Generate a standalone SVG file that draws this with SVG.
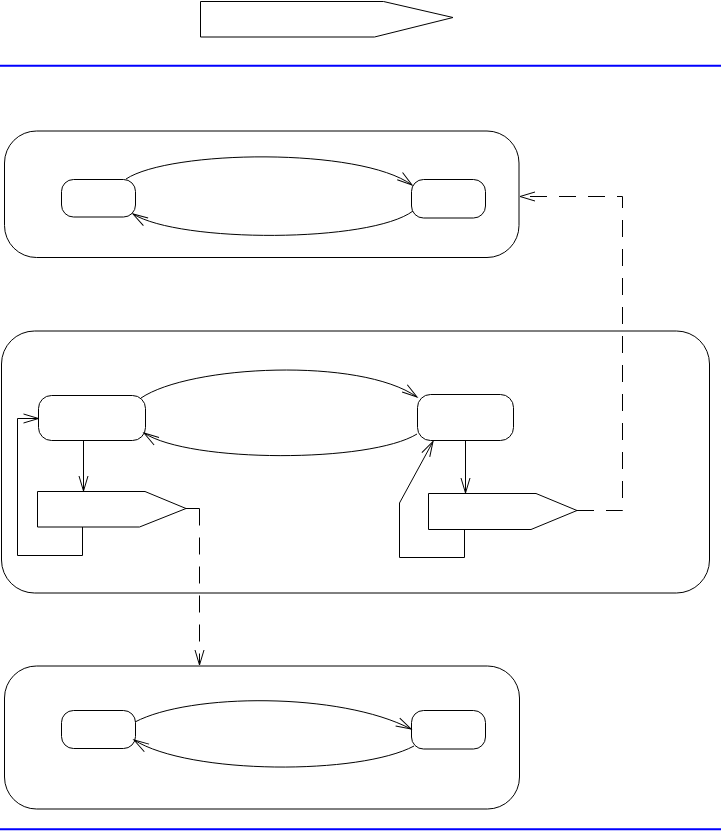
<svg xmlns="http://www.w3.org/2000/svg" width="721" height="831" viewBox="0 0 721 831">
  <style>
    .box { fill: #ffffff; stroke: #000000; stroke-width: 1; }
    .line { fill: none; stroke: #000000; stroke-width: 1; }
    .dash { fill: none; stroke: #000000; stroke-width: 1; stroke-dasharray: 17 12; }
    .sep { stroke: #0000ff; stroke-width: 2; }
  </style>
  <defs>
    <marker id="arr" markerUnits="userSpaceOnUse" markerWidth="18" markerHeight="12" refX="15" refY="5" orient="auto" overflow="visible">
      <path d="M0,0.5 L15,5 L0,9.5" fill="none" stroke="#000000" stroke-width="1" stroke-dasharray="none"/>
    </marker>
  </defs>
  <rect width="721" height="831" fill="#ffffff"/>

  <g id="header">
    <polygon class="box" points="200.5,1.5 383.5,1.5 453,17.5 374.5,37 200.5,37"/>
  </g>
  <line class="sep" x1="0" y1="65.7" x2="721" y2="65.7"/>
  <line class="sep" x1="0" y1="829.3" x2="721" y2="829.3"/>

  <g id="container-top">
    <rect class="box" x="4.5" y="131" width="514.5" height="126.5" rx="32" ry="32"/>
  </g>
  <g id="container-middle">
    <rect class="box" x="1.5" y="331" width="708" height="262" rx="33" ry="33"/>
  </g>
  <g id="container-bottom">
    <rect class="box" x="4.5" y="666" width="515" height="143" rx="32" ry="32"/>
  </g>

  <g id="top-left-state"><rect class="box" x="61.5" y="179.5" width="74" height="37.5" rx="12" ry="12"/></g>
  <g id="top-right-state"><rect class="box" x="411.5" y="179.5" width="74" height="38.5" rx="12" ry="12"/></g>

  <g id="mid-left-state"><rect class="box" x="38.5" y="395.5" width="107" height="45" rx="13" ry="13"/></g>
  <g id="mid-right-state"><rect class="box" x="417.5" y="394.5" width="96" height="46" rx="13" ry="13"/></g>
  <g id="mid-left-signal"><polygon class="box" points="37.5,491.5 145,491.5 186,508.5 139.5,527 37.5,527"/></g>
  <g id="mid-right-signal"><polygon class="box" points="428.5,493.5 536,493.5 577,510.5 531,529.5 428.5,529.5"/></g>

  <g id="bottom-left-state"><rect class="box" x="61.5" y="710.5" width="74" height="38" rx="12" ry="12"/></g>
  <g id="bottom-right-state"><rect class="box" x="411.5" y="710.5" width="74" height="38.5" rx="12" ry="12"/></g>

  <g id="connectors">
    <!-- top container -->
    <path class="line" d="M126,179 C170,150 360,147 412,185" marker-end="url(#arr)"/>
    <path class="line" d="M413,211 C370,243 180,243 133,214" marker-end="url(#arr)"/>
    <!-- middle container -->
    <path class="line" d="M141,398 C190,365 360,357 417,397" marker-end="url(#arr)"/>
    <path class="line" d="M417,434 C370,463 190,463 144,433" marker-end="url(#arr)"/>
    <path class="line" d="M83.5,440.5 V491" marker-end="url(#arr)"/>
    <path class="line" d="M465.5,440.5 V493" marker-end="url(#arr)"/>
    <path class="line" d="M82.5,527 V555.5 H17.5 V418.5 H38.5" marker-end="url(#arr)"/>
    <path class="line" d="M464.5,529.5 V557.5 H399.5 V503 L433,441.5" marker-end="url(#arr)"/>
    <!-- bottom container -->
    <path class="line" d="M135,722 C190,693 340,692 411,729" marker-end="url(#arr)"/>
    <path class="line" d="M414,746 C360,775 190,775 134,740" marker-end="url(#arr)"/>
    <!-- dashed cross links -->
    <path class="line" d="M186,508.5 H199.5"/>
    <path class="dash" d="M199.5,508.5 V665" marker-end="url(#arr)"/>
    <path class="dash" d="M577,510.5 H622.5 V196.5 H520" marker-end="url(#arr)"/>
  </g>
</svg>
